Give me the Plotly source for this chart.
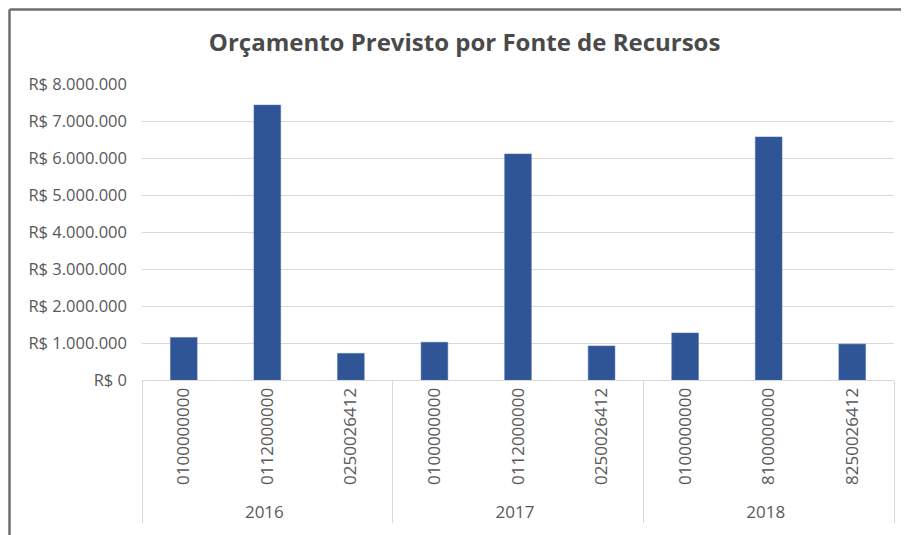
"""Orçamento previsto por fonte de recursos - bar chart."""
import plotly.graph_objects as go

# data
anos = ["2016", "2016", "2016", "2017", "2017", "2017", "2018", "2018", "2018"]
fontes = ["0100000000", "0112000000", "0250026412",
          "0100000000", "0112000000", "0250026412",
          "0100000000", "8100000000", "8250026412"]
valores = [1150000, 7430000, 720000,
           1020000, 6110000, 920000,
           1270000, 6570000, 970000]

tick_vals = [0, 1000000, 2000000, 3000000, 4000000, 5000000, 6000000, 7000000, 8000000]
tick_text = ["R$ 0", "R$ 1.000.000", "R$ 2.000.000", "R$ 3.000.000", "R$ 4.000.000",
             "R$ 5.000.000", "R$ 6.000.000", "R$ 7.000.000", "R$ 8.000.000"]

FONT = "'Open Sans', Lato, sans-serif"
GREY = "#595959"
GRID = "#D9D9D9"

fig = go.Figure()
fig.add_bar(x=[anos, fontes], y=valores, marker_color="#2F5597",
            marker_line=dict(color="#4A6FB0", width=0.5))

# the page body adds an 8px offset, so the figure is 8px smaller than the window
fig.update_layout(
    width=901, height=527,
    margin=dict(l=134, r=15, t=76, b=155),
    paper_bgcolor="white", plot_bgcolor="white",
    bargap=0.68, showlegend=False,
    font=dict(family=FONT, color=GREY, size=17),
    title=dict(text="<b>Orçamento Previsto por Fonte de Recursos</b>",
               x=0.429, xref="paper", xanchor="center",
               y=0.934, yanchor="middle",
               font=dict(size=24, color="#4A4A4A", family=FONT)),
)

fig.update_yaxes(range=[0, 8000000], tickvals=tick_vals, ticktext=tick_text,
                 showgrid=True, gridcolor=GRID, gridwidth=1,
                 zeroline=False, showline=False, ticks="",
                 ticklabelstandoff=14, tickfont=dict(size=16.5, color=GREY))

fig.update_xaxes(type="multicategory", tickangle=-90,
                 showline=True, linecolor=GRID, linewidth=1,
                 showdividers=True, dividercolor=GRID, dividerwidth=1,
                 ticks="", tickfont=dict(size=17, color=GREY))

# chart frame (top and left edges of the cropped chart border)
fig.add_shape(type="line", xref="paper", yref="paper",
              x0=-0.1762, x1=1.03, y0=1.2517, y1=1.2517,
              line=dict(color="#6E6E6E", width=2.5))
fig.add_shape(type="line", xref="paper", yref="paper",
              x0=-0.1762, x1=-0.1762, y0=1.2517, y1=-0.6,
              line=dict(color="#6E6E6E", width=2.5))

fig.write_html("out.html")
